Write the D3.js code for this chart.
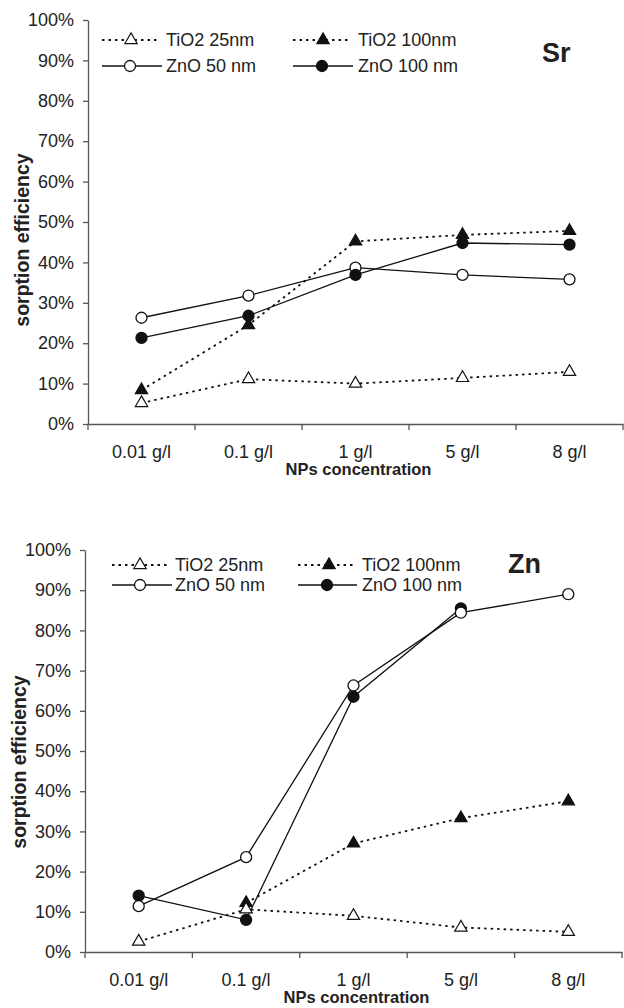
<!DOCTYPE html>
<html>
<head>
<meta charset="utf-8">
<script src="https://cdn.jsdelivr.net/npm/d3@7"></script>
<style>
  body { margin: 0; background: #fff; }
  svg { display: block; font-family: "Liberation Sans", Arial, sans-serif; }
</style>
</head>
<body>
<svg id="svg" width="624" height="1008"></svg>
<script>
// data
const categories = ["0.01 g/l", "0.1 g/l", "1 g/l", "5 g/l", "8 g/l"];
const yTicks = [0, 10, 20, 30, 40, 50, 60, 70, 80, 90, 100];
const seriesNames = ["TiO2 25nm", "TiO2 100nm", "ZnO 50 nm", "ZnO 100 nm"];

const srTiO2_25 = [5.2, 11.1, 10.0, 11.4, 12.9];
const srTiO2_100 = [8.4, 24.5, 45.2, 46.8, 47.8];
const srZnO_50 = [26.3, 31.8, 38.7, 36.9, 35.8];
const srZnO_100 = [21.3, 26.8, 36.9, 44.8, 44.4];

const znTiO2_25 = [2.6, 10.6, 9.0, 6.1, 5.0];
const znTiO2_100 = [null, 12.2, 27.0, 33.3, 37.5];
const znZnO_50 = [11.4, 23.6, 66.3, 84.4, 89.0];
const znZnO_100 = [14.0, 8.0, 63.5, 85.5, null];

// how each series looks
const styles = [
  { dash: "2.5,4", marker: "triangle", fill: "#fff" },
  { dash: "2.5,4", marker: "triangle", fill: "#111" },
  { dash: null, marker: "circle", fill: "#fff" },
  { dash: null, marker: "circle", fill: "#111" }
];

const mySvg = d3.select("#svg");

function drawPanel(p) {
  const xScale = d3.scaleBand().domain(categories).range([p.left, p.right]).padding(0);
  const yScale = d3.scaleLinear().domain([0, 100]).range([p.bottom, p.top]);
  const getX = (i) => xScale(categories[i]) + xScale.bandwidth() / 2;

  const g = mySvg.append("g");

  // y axis
  const yAxis = d3.axisLeft(yScale)
    .tickValues(yTicks)
    .tickFormat(d => d + "%")
    .tickSize(5)
    .tickSizeOuter(0)
    .tickPadding(9);
  const ya = g.append("g")
    .attr("transform", `translate(${p.left},0)`)
    .call(yAxis);
  ya.selectAll("text").attr("font-size", 18).attr("fill", "#222").attr("font-family", "Liberation Sans, Arial, sans-serif");
  ya.selectAll("line, path").attr("stroke", "#555").attr("stroke-width", 1.3);

  // x axis: labels in the middle of each band, ticks at band edges
  const xAxis = d3.axisBottom(xScale).tickSize(0).tickSizeOuter(0).tickPadding(21);
  const xa = g.append("g")
    .attr("transform", `translate(0,${p.bottom})`)
    .call(xAxis);
  xa.selectAll("text").attr("font-size", 18).attr("fill", "#222").attr("font-family", "Liberation Sans, Arial, sans-serif");
  xa.select(".domain").attr("stroke", "#555").attr("stroke-width", 1.3);
  const edges = categories.map(c => xScale(c)).concat([p.right]);
  g.selectAll(".edge").data(edges).enter().append("line")
    .attr("x1", d => d).attr("x2", d => d)
    .attr("y1", p.bottom).attr("y2", p.bottom + 6)
    .attr("stroke", "#555").attr("stroke-width", 1.3);

  // axis titles
  g.append("text")
    .attr("x", (p.left + p.right) / 2 + 3)
    .attr("y", p.bottom + 51)
    .attr("text-anchor", "middle")
    .attr("font-size", 16.5).attr("font-weight", "bold").attr("fill", "#222")
    .text("NPs concentration");
  g.append("text")
    .attr("transform", `translate(${p.titleX},${p.titleY}) rotate(-90)`)
    .attr("text-anchor", "middle")
    .attr("font-size", 19.5).attr("font-weight", "bold").attr("fill", "#222")
    .text("sorption efficiency");

  // panel label
  g.append("text")
    .attr("x", p.labelX).attr("y", p.labelY)
    .attr("font-size", 27).attr("font-weight", "bold").attr("fill", "#222")
    .text(p.label);

  const tri = d3.symbol().type(d3.symbolTriangle).size(66);

  function marker(sel, st, x, y) {
    if (st.marker === "circle") {
      sel.append("circle").attr("cx", x).attr("cy", y).attr("r", 5.5)
        .attr("fill", st.fill).attr("stroke", "#111").attr("stroke-width", 1.3);
    } else {
      sel.append("path").attr("d", tri)
        .attr("transform", `translate(${x},${y})`)
        .attr("fill", st.fill).attr("stroke", "#111").attr("stroke-width", 1.2);
    }
  }

  // lines
  const line = d3.line()
    .defined(d => d != null)
    .x((d, i) => getX(i))
    .y(d => yScale(d));
  p.series.forEach((vals, k) => {
    g.append("path")
      .attr("d", line(vals))
      .attr("fill", "none")
      .attr("stroke", "#111")
      .attr("stroke-width", styles[k].dash ? 1.8 : 1.3)
      .attr("stroke-dasharray", styles[k].dash);
  });
  // markers
  p.order.forEach(k => {
    p.series[k].forEach((v, i) => {
      if (v == null) return;
      marker(g, styles[k], getX(i), yScale(v));
    });
  });

  // legend
  p.legend.forEach((L, k) => {
    const st = styles[k];
    g.append("line")
      .attr("x1", L.x0).attr("x2", L.x1)
      .attr("y1", L.y).attr("y2", L.y)
      .attr("stroke", "#111")
      .attr("stroke-width", st.dash ? 1.8 : 1.3)
      .attr("stroke-dasharray", st.dash);
    marker(g, st, L.m, L.y);
    g.append("text")
      .attr("x", L.tx).attr("y", L.y + 6)
      .attr("font-size", 18).attr("fill", "#222")
      .text(seriesNames[k]);
  });
}

drawPanel({
  left: 88, right: 623, top: 20, bottom: 424,
  titleX: 29, titleY: 240,
  label: "Sr", labelX: 542, labelY: 62,
  series: [srTiO2_25, srTiO2_100, srZnO_50, srZnO_100],
  order: [2, 3, 1, 0],
  legend: [
    { x0: 102, x1: 160, m: 131, tx: 166, y: 40 },
    { x0: 293, x1: 351, m: 323, tx: 358, y: 40 },
    { x0: 102, x1: 162, m: 130, tx: 166, y: 66 },
    { x0: 293, x1: 353, m: 322, tx: 358, y: 66 }
  ]
});

drawPanel({
  left: 85, right: 622, top: 550, bottom: 952,
  titleX: 26, titleY: 762,
  label: "Zn", labelX: 508, labelY: 573,
  series: [znTiO2_25, znTiO2_100, znZnO_50, znZnO_100],
  order: [1, 0, 3, 2],
  legend: [
    { x0: 112, x1: 170, m: 140, tx: 175, y: 565 },
    { x0: 298, x1: 355, m: 329, tx: 362, y: 565 },
    { x0: 112, x1: 172, m: 140, tx: 175, y: 585 },
    { x0: 298, x1: 357, m: 327, tx: 362, y: 585 }
  ]
});
</script>
</body>
</html>
